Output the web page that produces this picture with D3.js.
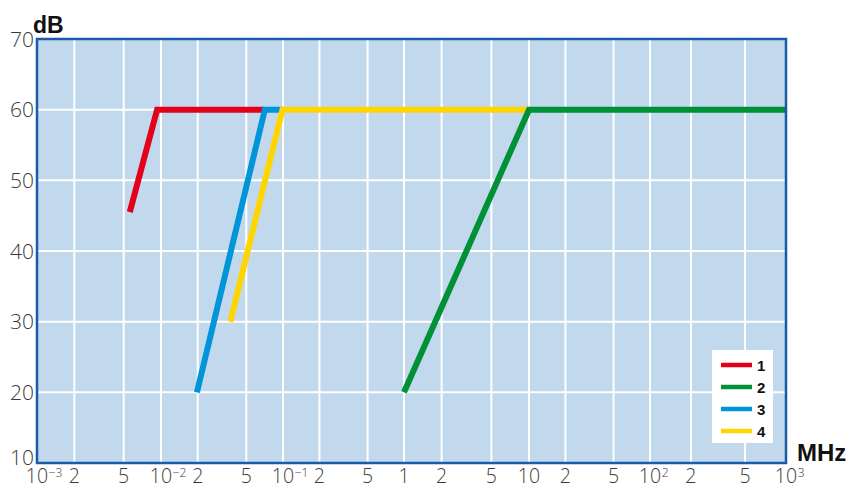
<!DOCTYPE html>
<html>
<head>
<meta charset="utf-8">
<script src="https://cdn.jsdelivr.net/npm/d3@7"></script>
<style>
  body { margin: 0; background: #fff; }
  text { font-family: "Open Sans", "DejaVu Sans", sans-serif; }
</style>
</head>
<body>
<svg id="chart" width="853" height="489"></svg>
<script>
// series data: [frequency MHz, dB]
var series1 = [[0.0056, 45.5], [0.0093, 60], [0.07, 60]]
var series2 = [[1, 20], [10, 60], [1000, 60]]
var series3 = [[0.0197, 20], [0.071, 60], [0.1, 60]]
var series4 = [[0.037, 30], [0.099, 60], [10, 60]]
var seriesNames = ['1', '2', '3', '4']
var seriesColors = ['#e2001a', '#009036', '#0095d9', '#ffd500']

var yTicks = [10, 20, 30, 40, 50, 60, 70]
var decades = [-3, -2, -1, 0, 1, 2, 3]
var minorMult = [2, 5]

var svg = d3.select('#chart')
var pLeft = 37, pRight = 786, pTop = 39, pBottom = 463

// the printed decades are not quite even, so map each decade to its drawn spot
var decadeVals = decades.map(function(e) { return Math.pow(10, e) })
var x = d3.scaleLog().domain(decadeVals).range([pLeft, 161, 283, 404, 529, 650, pRight])
var y = d3.scaleLinear().domain([10, 70]).range([pBottom, pTop])

// plot background
svg.append('rect')
    .attr('x', pLeft).attr('y', pTop)
    .attr('width', pRight - pLeft).attr('height', pBottom - pTop)
    .attr('fill', '#c2d8ec')

// grid
var gridX = []
decades.forEach(function(e) {
    gridX.push(Math.pow(10, e))
    if (e < 3) minorMult.forEach(function(m) { gridX.push(m * Math.pow(10, e)) })
})
svg.selectAll('.vgrid')
    .data(gridX)
    .enter()
    .append('line')
    .attr('x1', function(d) { return x(d) }).attr('x2', function(d) { return x(d) })
    .attr('y1', pTop).attr('y2', pBottom)
    .attr('stroke', '#fff').attr('stroke-width', 2)
svg.selectAll('.hgrid')
    .data(yTicks)
    .enter()
    .append('line')
    .attr('x1', pLeft).attr('x2', pRight)
    .attr('y1', function(d) { return y(d) }).attr('y2', function(d) { return y(d) })
    .attr('stroke', '#fff').attr('stroke-width', 2)

// series lines
var line = d3.line()
    .x(function(d) { return x(d[0]) })
    .y(function(d) { return y(d[1]) })
var allSeries = [series1, series2, series3, series4]
var drawOrder = [0, 2, 3, 1]
drawOrder.forEach(function(i) {
    svg.append('path')
        .attr('d', line(allSeries[i]))
        .attr('fill', 'none')
        .attr('stroke', seriesColors[i])
        .attr('stroke-width', 6)
        .attr('stroke-linejoin', 'miter')
})

// border
svg.append('rect')
    .attr('x', pLeft).attr('y', pTop)
    .attr('width', pRight - pLeft).attr('height', pBottom - pTop)
    .attr('fill', 'none')
    .attr('stroke', '#1a5aa6').attr('stroke-width', 2.5)

// y labels
svg.selectAll('.ylab')
    .data(yTicks)
    .enter()
    .append('text')
    .attr('x', 34)
    .attr('y', function(d) { return d === 10 ? 465 : y(d) + 7.5 })
    .attr('text-anchor', 'end')
    .attr('font-size', 21)
    .attr('font-weight', 300)
    .attr('fill', '#3a3a3a')
    .text(function(d) { return d })

// x labels
var xLabels = []
decades.forEach(function(e) {
    xLabels.push({ v: Math.pow(10, e), e: e })
    if (e < 3) minorMult.forEach(function(m) { xLabels.push({ v: m * Math.pow(10, e), m: m }) })
})
xLabels.forEach(function(d) {
    var base = d.m ? String(d.m) : d.e === 0 ? '1' : '10'
    var t = svg.append('text')
        .attr('x', x(d.v))
        .attr('y', 483)
        .attr('text-anchor', 'middle')
        .attr('font-size', 19.5)
        .attr('font-weight', 300)
        .attr('fill', '#3a3a3a')
        .text(base)
    if (!d.m && d.e !== 0 && d.e !== 1) {
        var w = t.node().getComputedTextLength()
        svg.append('text')
            .attr('x', x(d.v) + w / 2 + 0.5)
            .attr('y', 477)
            .attr('font-size', 12)
            .attr('font-weight', 300)
            .attr('fill', '#3a3a3a')
            .text(d.e < 0 ? '\u2212' + (-d.e) : d.e)
    }
})

// axis titles
svg.append('text')
    .attr('x', 33).attr('y', 33)
    .attr('font-size', 23).attr('font-weight', 'bold')
    .attr('fill', '#111')
    .style('font-family', '"Liberation Sans", Arial, sans-serif')
    .text('dB')
svg.append('text')
    .attr('x', 797).attr('y', 461)
    .attr('font-size', 24).attr('font-weight', 'bold')
    .attr('fill', '#111')
    .style('font-family', '"Liberation Sans", Arial, sans-serif')
    .text('MHz')

// legend
var legend = svg.append('g')
legend.append('rect')
    .attr('x', 712).attr('y', 350)
    .attr('width', 61).attr('height', 93)
    .attr('fill', '#fff')
var legY = d3.scalePoint().domain(seriesNames).range([365, 431])
seriesNames.forEach(function(n, i) {
    legend.append('line')
        .attr('x1', 721).attr('x2', 752)
        .attr('y1', legY(n)).attr('y2', legY(n))
        .attr('stroke', seriesColors[i]).attr('stroke-width', 4.5)
    legend.append('text')
        .attr('x', 757).attr('y', legY(n) + 5.5)
        .attr('font-size', 15).attr('font-weight', 'bold')
        .attr('fill', '#111')
        .style('font-family', '"Liberation Sans Narrow", "Liberation Sans", Arial, sans-serif')
        .text(n)
})
</script>
</body>
</html>
